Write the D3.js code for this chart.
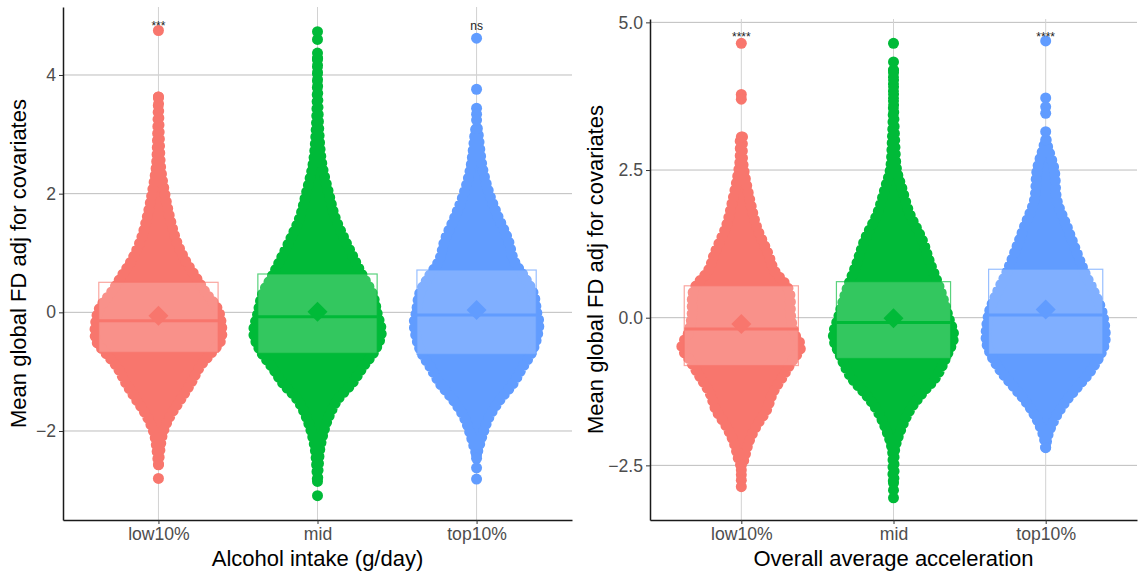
<!DOCTYPE html>
<html>
<head>
<meta charset="utf-8">
<script src="https://cdn.jsdelivr.net/npm/d3@7"></script>
<style>
  body { margin: 0; background: #fff; }
  text { font-family: "Liberation Sans", Arial, Helvetica, sans-serif; }
</style>
</head>
<body>
<svg id="chart" width="1147" height="574"></svg>
<script>
// ---- data -------------------------------------------------------------
const groups = ["low10%", "mid", "top10%"];
const groupColours = ["#F8766D", "#00BA38", "#619CFF"];

// Panel 1: alcohol intake groups
const alcoholTicks = [-2, 0, 2, 4];
// swarm outline per group: [value, relative density]
const alcoholLowProfile = [[3.63,0.07],[3.02,0.09],[2.45,0.11],[2.0,0.17],[1.6,0.24],[1.22,0.33],[0.88,0.46],[0.6,0.61],[0.32,0.76],[0.09,0.91],[-0.13,0.97],[-0.47,0.97],[-0.69,0.83],[-0.92,0.67],[-1.2,0.54],[-1.48,0.39],[-1.76,0.24],[-2.04,0.14],[-2.32,0.10],[-2.57,0.08]];
const alcoholMidProfile = [[4.28,0.08],[3.86,0.08],[3.02,0.10],[2.51,0.14],[2.0,0.24],[1.6,0.33],[1.22,0.47],[0.88,0.61],[0.6,0.73],[0.32,0.86],[-0.01,0.93],[-0.35,0.99],[-0.64,0.90],[-0.92,0.73],[-1.2,0.57],[-1.48,0.36],[-1.76,0.24],[-2.04,0.16],[-2.32,0.11],[-2.6,0.09],[-2.85,0.08]];
const alcoholTopProfile = [[3.1,0.09],[3.02,0.10],[2.45,0.16],[2.0,0.26],[1.6,0.39],[1.22,0.53],[0.88,0.61],[0.6,0.76],[0.32,0.89],[-0.01,0.94],[-0.18,0.97],[-0.47,0.93],[-0.69,0.86],[-0.92,0.74],[-1.2,0.60],[-1.48,0.41],[-1.76,0.26],[-2.04,0.17],[-2.32,0.10],[-2.4,0.08]];
// isolated extreme observations
const alcoholLowTail = [4.75, -2.8];
const alcoholMidTail = [4.73, 4.60, 4.37, -3.09];
const alcoholTopTail = [4.62, 3.76, 3.44, 3.34, 3.24, -2.46, -2.62, -2.81];
// crossbar summaries
const alcoholUpper  = [0.506, 0.646, 0.713];
const alcoholLower  = [-0.674, -0.690, -0.708];
const alcoholMedian = [-0.142, -0.074, -0.045];
const alcoholMean   = [-0.057, 0.010, 0.039];
const alcoholSignif = ["***", "", "ns"];
const alcoholSignifAt = 4.75;

// Panel 2: overall average acceleration groups
const accelTicks = [-2.5, 0, 2.5, 5];
const accelLowProfile = [[3.06,0.10],[2.7,0.10],[2.5,0.12],[1.99,0.21],[1.54,0.31],[1.09,0.48],[0.81,0.57],[0.47,0.79],[0.02,0.82],[-0.26,0.87],[-0.49,0.97],[-0.72,0.85],[-1.0,0.70],[-1.28,0.55],[-1.56,0.46],[-1.85,0.30],[-2.12,0.19],[-2.41,0.12],[-2.5,0.09]];
const accelMidProfile = [[4.19,0.08],[3.69,0.08],[3.01,0.10],[2.5,0.13],[2.22,0.20],[1.77,0.32],[1.32,0.51],[0.92,0.63],[0.47,0.78],[0.02,0.90],[-0.32,0.98],[-0.66,0.87],[-1.0,0.72],[-1.28,0.51],[-1.56,0.33],[-1.9,0.19],[-2.24,0.10],[-2.69,0.09],[-2.8,0.08]];
const accelTopProfile = [[3.01,0.09],[2.9,0.11],[2.5,0.21],[1.99,0.25],[1.54,0.40],[1.09,0.55],[0.75,0.67],[0.47,0.79],[0.07,0.93],[-0.38,0.97],[-0.60,0.91],[-0.89,0.76],[-1.17,0.56],[-1.45,0.36],[-1.73,0.21],[-2.01,0.11],[-2.2,0.08]];
const accelLowTail = [4.645, 3.78, 3.70, -2.58, -2.66, -2.75, -2.86];
const accelMidTail = [4.645, 4.33, -2.92, -3.05];
const accelTopTail = [4.685, 3.72, 3.57, 3.46, 3.15];
const accelUpper  = [0.54, 0.61, 0.82];
const accelLower  = [-0.81, -0.69, -0.615];
const accelMedian = [-0.19, -0.08, 0.046];
const accelMean   = [-0.107, -0.01, 0.14];
const accelSignif = ["****", "", "****"];
const accelSignifAt = 4.68;

// ---- drawing -----------------------------------------------------------
const svg = d3.select("#chart");
const dotR = 5.5;

function drawPanel(p) {
  const g = svg.append("g");
  const x = d3.scalePoint().domain(groups).range([p.left, p.right]).padding(0.6);
  const y = d3.scaleLinear().domain(p.yDomain).range([p.bottom, p.top]);
  const step = x.step();
  const w = d3.scaleLinear().domain([0, 1]).range([0, 0.44 * step]);

  // grid
  const grid = g.append("g");
  grid.selectAll("line.h").data(p.ticks).join("line")
    .attr("x1", p.left).attr("x2", p.right)
    .attr("y1", d => y(d)).attr("y2", d => y(d))
    .attr("stroke", "#BDBDBD").attr("stroke-width", 1);
  grid.selectAll("line.v").data(groups).join("line")
    .attr("x1", d => x(d)).attr("x2", d => x(d))
    .attr("y1", p.top).attr("y2", p.bottom)
    .attr("stroke", "#D2D2D2").attr("stroke-width", 1);

  // swarms
  groups.forEach((grp, i) => {
    const cx = x(grp);
    const col = groupColours[i];
    const prof = p.profiles[i].slice().sort((a, b) => b[0] - a[0]);
    const inner = d => Math.max(0, w(d[1]) - dotR);
    const area = d3.area()
      .curve(d3.curveCatmullRom)
      .y(d => y(d[0]))
      .x0(d => cx - inner(d))
      .x1(d => cx + inner(d));
    g.append("path").datum(prof)
      .attr("d", area)
      .attr("fill", col)
      .attr("stroke", col)
      .attr("stroke-width", dotR * 2)
      .attr("stroke-linecap", "round")
      .attr("stroke-linejoin", "round")
      .attr("stroke-dasharray", "0 7");
    const ends = [prof[0][0], prof[prof.length - 1][0]];
    g.selectAll(null).data(ends.concat(p.tails[i])).join("circle")
      .attr("cx", cx).attr("cy", d => y(d)).attr("r", dotR)
      .attr("fill", col);
  });

  // crossbars, medians and means
  const half = 0.375 * step;
  groups.forEach((grp, i) => {
    const cx = x(grp);
    const col = groupColours[i];
    g.append("rect")
      .attr("x", cx - half).attr("width", 2 * half)
      .attr("y", y(p.upper[i])).attr("height", y(p.lower[i]) - y(p.upper[i]))
      .attr("fill", "#fff").attr("fill-opacity", 0.2)
      .attr("stroke", col).attr("stroke-opacity", 0.65).attr("stroke-width", 1.2);
    g.append("line")
      .attr("x1", cx - half).attr("x2", cx + half)
      .attr("y1", y(p.median[i])).attr("y2", y(p.median[i]))
      .attr("stroke", col).attr("stroke-width", 3);
    g.append("path")
      .attr("d", d3.symbol(d3.symbolSquare, 200)())
      .attr("transform", `translate(${cx},${y(p.mean[i])}) rotate(45)`)
      .attr("fill", col);
  });

  // significance labels
  g.selectAll("text.sig").data(groups).join("text")
    .attr("x", d => x(d)).attr("y", y(p.signifAt))
    .attr("text-anchor", "middle").attr("font-size", 12).attr("fill", "#222")
    .text((d, i) => p.signif[i]);

  // axes
  const yAxis = g.append("g").attr("transform", `translate(${p.left},0)`)
    .call(d3.axisLeft(y).tickValues(p.ticks).tickSize(4).tickSizeOuter(0).tickFormat(p.fmt));
  const xAxis = g.append("g").attr("transform", `translate(0,${p.bottom})`)
    .call(d3.axisBottom(x).tickSize(4).tickSizeOuter(0));
  [yAxis, xAxis].forEach(a => {
    a.select(".domain").attr("stroke", "#1a1a1a").attr("stroke-width", 1.5);
    a.selectAll(".tick line").attr("stroke", "#333").attr("stroke-width", 1);
    a.selectAll(".tick text").attr("font-size", 17.6).attr("fill", "#4D4D4D")
      .attr("font-family", "'Liberation Sans', Arial, sans-serif");
  });
  yAxis.selectAll(".tick text").attr("x", -7);
  xAxis.selectAll(".tick text").attr("y", 8);

  // titles
  g.append("text")
    .attr("x", (p.left + p.right) / 2).attr("y", 566)
    .attr("text-anchor", "middle").attr("font-size", 22).attr("fill", "#000")
    .text(p.xTitle);
  g.append("text")
    .attr("transform", `translate(${p.yTitleX},${(p.top + p.bottom) / 2}) rotate(-90)`)
    .attr("dy", "0.35em")
    .attr("text-anchor", "middle").attr("font-size", 22).attr("fill", "#000")
    .text("Mean global FD adj for covariates");
}

drawPanel({
  left: 63, right: 572, top: 7, bottom: 520,
  yDomain: [-3.50, 5.146], ticks: alcoholTicks, fmt: d3.format("d"),
  profiles: [alcoholLowProfile, alcoholMidProfile, alcoholTopProfile],
  tails: [alcoholLowTail, alcoholMidTail, alcoholTopTail],
  upper: alcoholUpper, lower: alcoholLower, median: alcoholMedian, mean: alcoholMean,
  signif: alcoholSignif, signifAt: alcoholSignifAt,
  xTitle: "Alcohol intake (g/day)", yTitleX: 18
});

drawPanel({
  left: 650, right: 1137, top: 19, bottom: 520,
  yDomain: [-3.425, 5.057], ticks: accelTicks, fmt: d3.format(".1f"),
  profiles: [accelLowProfile, accelMidProfile, accelTopProfile],
  tails: [accelLowTail, accelMidTail, accelTopTail],
  upper: accelUpper, lower: accelLower, median: accelMedian, mean: accelMean,
  signif: accelSignif, signifAt: accelSignifAt,
  xTitle: "Overall average acceleration", yTitleX: 595
});
</script>
</body>
</html>
